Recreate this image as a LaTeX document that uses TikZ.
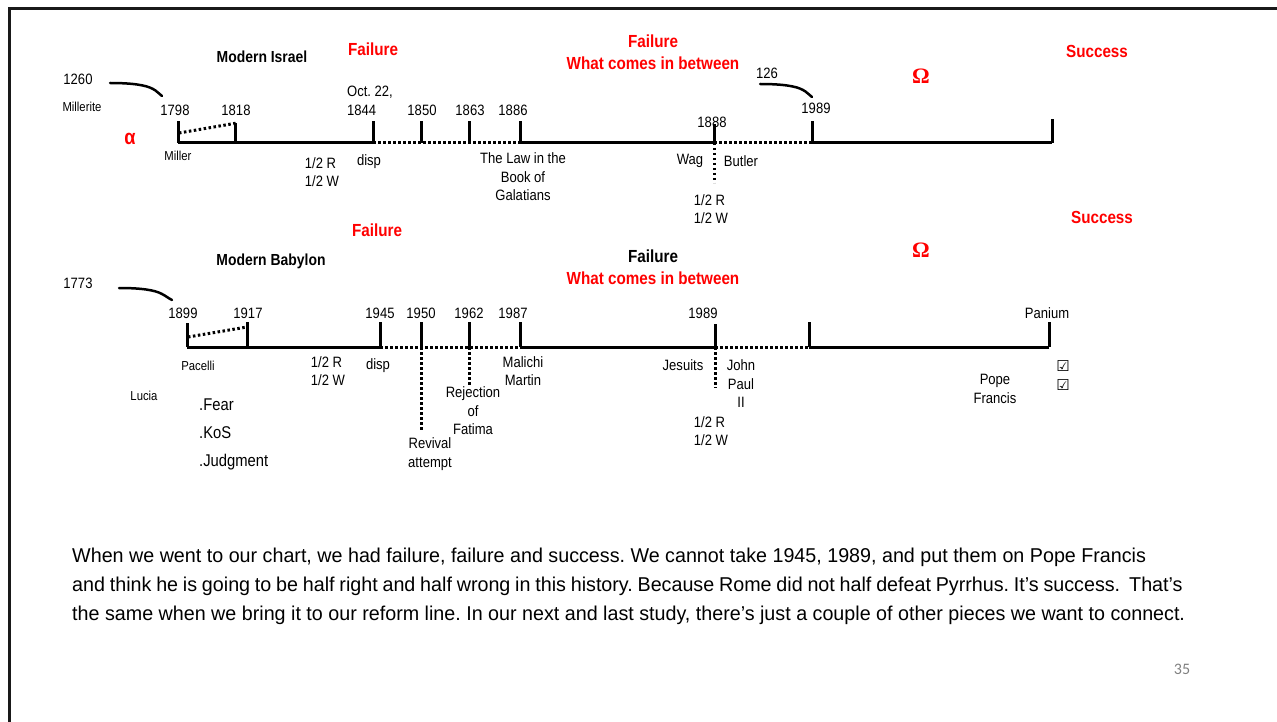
\documentclass[tikz,border=0pt]{standalone}
\usepackage{fontspec}
\setmainfont{Liberation Sans}[FakeStretch=0.87]
\newfontfamily\bodyfont{Liberation Sans}[FakeStretch=0.985]
\newfontfamily\omegafont{Liberation Serif}
\newfontfamily\symfont{DejaVu Sans}
\newfontfamily\numfont{Carlito}
\frenchspacing
\begin{document}
\begin{tikzpicture}[x=1pt,y=-1pt,
  lbl/.style={inner sep=0pt,font=\fontsize{15}{18.5}\selectfont,align=center},
  sml/.style={inner sep=0pt,font=\fontsize{13}{15}\selectfont},
  redb/.style={inner sep=0pt,text=red,font=\fontsize{17.5}{22}\selectfont\bfseries,align=center},
  blkb/.style={inner sep=0pt,font=\fontsize{16}{20}\selectfont\bfseries},
  bigl/.style={inner sep=0pt,font=\fontsize{17}{20}\selectfont,anchor=west},
  body/.style={inner sep=0pt,font=\fontsize{20}{24}\selectfont\bodyfont,anchor=base west},
  tl/.style={line width=3pt},
  dotln/.style={line width=3pt,dash pattern=on 2.5pt off 2.5pt},
  hook/.style={line width=2.5pt,line cap=round},
  omg/.style={inner sep=0pt,text=red,font=\fontsize{22}{24}\selectfont\omegafont\bfseries},
  chk/.style={inner sep=0pt,font=\fontsize{15}{17}\selectfont\symfont\bfseries}
]
\useasboundingbox (0,0) rectangle (1277,722);
\draw[line width=3pt,black!90] (9,722) -- (9,9) -- (1277,9);

% ===== Top timeline (Modern Israel) =====
\coordinate (a1) at (178,143); \coordinate (a2) at (235,143);
\coordinate (a3) at (373,143); \coordinate (a4) at (421,143);
\coordinate (a5) at (469,143); \coordinate (a6) at (520,143);
\coordinate (a7) at (714,143); \coordinate (a8) at (812,143);
\coordinate (a9) at (1052,143);
\draw[tl] (a1) -- (a3);
\draw[dotln] (a3) -- (a6);
\draw[tl] (a6) -- (a7);
\draw[dotln] (a7) -- (a8);
\draw[tl] (a8) -- (a9);
\draw[tl] (a1) -- ++(0,-22);
\draw[tl] (a2) -- ++(0,-20);
\draw[tl] (a3) -- ++(0,-22);
\draw[tl] (a4) -- ++(0,-22);
\draw[tl] (a5) -- ++(0,-22);
\draw[tl] (a6) -- ++(0,-22);
\draw[tl] (a7) -- ++(0,-19);
\draw[tl] (a8) -- ++(0,-22);
\draw[tl] (a9) -- ++(0,-24);
\draw[dotln] (179,133) -- (237,123);
\draw[dotln] (a7) -- ++(0,40);

\node[redb] (f1) at (373,49) {Failure};
\node[redb] (f2) at (653,41) {Failure};
\node[redb] (w1) at (653,63) {What comes in between};
\node[redb] (s1) at (1097,51) {Success};
\node[omg] (o1) at (921,76) {Ω};
\node[inner sep=0pt,text=red,font=\fontsize{21}{24}\selectfont\bfseries] (al) at (130,139) {α};
\node[blkb] (mi) at (262,57) {Modern Israel};

\node[lbl] (n1260) at (78,79) {1260};
\node[sml] (mil) at (82,107) {Millerite};
\draw[hook] (110,83) .. controls (132,83) and (146,85) .. (153,89) .. controls (157,91) and (159,94) .. (162,96);
\node[lbl] (n126) at (767,73) {126};
\draw[hook] (760,84) .. controls (782,84) and (796,86) .. (803,90) .. controls (807,92) and (809,95) .. (812,97);

\node[lbl] (y1798) at (175,110) {1798};
\node[lbl] (y1818) at (236,110) {1818};
\node[lbl,align=left] (y1844) at (370,101) {Oct. 22,\\1844};
\node[lbl] (y1850) at (422,110) {1850};
\node[lbl] (y1863) at (470,110) {1863};
\node[lbl] (y1886) at (513,110) {1886};
\node[lbl] (y1888) at (712,122) {1888};
\node[lbl] (y1989a) at (816,108) {1989};
\node[sml] (miller) at (178,156) {Miller};
\node[lbl,align=left] (hr1) at (322,172) {1/2 R\\1/2 W};
\node[lbl] (disp1) at (369,162) {disp};
\node[lbl] (law) at (523,177) {The Law in the\\Book of\\Galatians};
\node[lbl] (wag) at (690,161) {Wag};
\node[lbl] (butler) at (741,161) {Butler};
\node[lbl,align=left] (hr2) at (711,209) {1/2 R\\1/2 W};

% ===== Bottom timeline (Modern Babylon) =====
\coordinate (b1) at (187,347); \coordinate (b2) at (247,347);
\coordinate (b3) at (380,347); \coordinate (b4) at (421,347);
\coordinate (b5) at (469,347); \coordinate (b6) at (520,347);
\coordinate (b7) at (715,347); \coordinate (b8) at (809,347);
\coordinate (b9) at (1049,347);
\draw[tl] (b1) -- (b3);
\draw[dotln] (b3) -- (b6);
\draw[tl] (b6) -- (b7);
\draw[dotln] (b7) -- (b8);
\draw[tl] (b8) -- (b9);
\draw[tl] (b1) -- ++(0,-24);
\draw[tl] (b2) -- ++(0,-25);
\draw[tl] (b3) -- ++(0,-25);
\draw[tl] (b4) -- ++(0,-25);
\draw[tl] (b5) -- ++(0,-25);
\draw[tl] (b6) -- ++(0,-25);
\draw[tl] (b7) -- ++(0,-23);
\draw[tl] (b8) -- ++(0,-25);
\draw[tl] (b9) -- ++(0,-25);
\draw[dotln] (188,337) -- (247,327);
\draw[dotln] (b4) -- ++(0,83);
\draw[dotln] (b5) -- ++(0,38);
\draw[dotln] (b7) -- ++(0,41);

\node[redb] (f3) at (377,230) {Failure};
\node[blkb,font=\fontsize{17.5}{22}\selectfont\bfseries] (f4) at (653,256) {Failure};
\node[redb] (w2) at (653,278) {What comes in between};
\node[redb] (s2) at (1102,217) {Success};
\node[omg] (o2) at (921,250) {Ω};
\node[blkb] (mb) at (271,261) {Modern Babylon};

\node[lbl] (n1773) at (78,283) {1773};
\draw[hook] (119,288) .. controls (141,288) and (155,290) .. (162,294) .. controls (166,296) and (168,298) .. (172,300);

\node[lbl] (y1899) at (183,313) {1899};
\node[lbl] (y1917) at (248,313) {1917};
\node[lbl] (y1945) at (380,313) {1945};
\node[lbl] (y1950) at (421,313) {1950};
\node[lbl] (y1962) at (469,313) {1962};
\node[lbl] (y1987) at (513,313) {1987};
\node[lbl] (y1989b) at (703,313) {1989};
\node[lbl] (pan) at (1047,313) {Panium};
\node[sml] (pac) at (198,366) {Pacelli};
\node[sml] (luc) at (144,396) {Lucia};
\node[lbl,align=left] (hr3) at (328,371) {1/2 R\\1/2 W};
\node[lbl] (disp2) at (378,366) {disp};
\node[lbl] (mal) at (523,371) {Malichi\\Martin};
\node[lbl] (jes) at (683,365) {Jesuits};
\node[lbl] (jp) at (741,384) {John\\Paul\\II};
\node[lbl,align=left] (hr4) at (711,431) {1/2 R\\1/2 W};
\node[lbl] (rej) at (473,411) {Rejection\\of\\Fatima};
\node[lbl] (rev) at (430,454) {Revival\\attempt};
\node[bigl] (fear) at (199,405) {.Fear};
\node[bigl] (kos) at (199,433) {.KoS};
\node[bigl] (jud) at (199,462) {.Judgment};
\node[lbl] (pope) at (995,389) {Pope\\Francis};
\node[chk] (c1) at (1063,366) {☑};
\node[chk] (c2) at (1063,385) {☑};

% ===== Body text =====
\node[body] (t1) at (72,562) {When we went to our chart, we had failure, failure and success. We cannot take 1945, 1989, and put them on Pope Francis};
\node[body] (t2) at (72,591) {\spaceskip=0.24em and think he is going to be half right and half wrong in this history. Because Rome did not half defeat Pyrrhus. It’s success.\hspace{0.45em}That’s};
\node[body] (t3) at (72,620) {the same when we bring it to our reform line. In our next and last study, there’s just a couple of other pieces we want to connect.};
\node[inner sep=0pt,text=black!50,font=\fontsize{16}{18}\selectfont\numfont] (pg) at (1182,669) {35};
\end{tikzpicture}
\end{document}
